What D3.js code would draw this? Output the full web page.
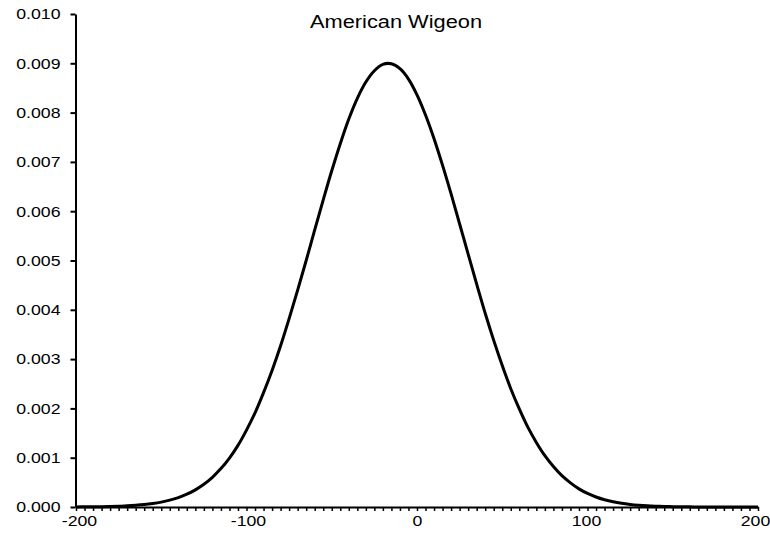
<!DOCTYPE html>
<html>
<head>
<meta charset="utf-8">
<script src="https://cdn.jsdelivr.net/npm/d3@7"></script>
<style>
  html, body { margin: 0; padding: 0; background: #fff; }
  svg { display: block; }
  text { font-family: "Liberation Sans", Arial, sans-serif; fill: #000; }
</style>
</head>
<body>
<svg id="chart" width="770" height="545"></svg>
<script>
// ---- data ----
const title = "American Wigeon";
const xValues = [
  -200,-195,-190,-185,-180,-175,-170,-165,-160,-155,
  -150,-145,-140,-135,-130,-125,-120,-115,-110,-105,
  -100,-95,-90,-85,-80,-75,-70,-65,-60,-55,
  -50,-45,-40,-35,-30,-25,-20,-15,-10,-5,
  0,5,10,15,20,25,30,35,40,45,
  50,55,60,65,70,75,80,85,90,95,
  100,105,110,115,120,125,130,135,140,145,
  150,155,160,165,170,175,180,185,190,195,
  200];
const densityValues = [
  0.000002,0.000003,0.000004,0.000007,0.00001,0.000016,0.000023,0.000034,0.000049,0.00007,
  0.000099,0.000139,0.000191,0.000259,0.000348,0.000461,0.000603,0.000779,0.000993,0.00125,
  0.00156,0.00191,0.00232,0.00277,0.00327,0.00382,0.0044,0.005,0.00562,0.00623,
  0.00682,0.00737,0.00787,0.00829,0.00862,0.00885,0.00898,0.00899,0.00889,0.00868,
  0.00836,0.00795,0.00747,0.00693,0.00635,0.00574,0.00513,0.00452,0.00393,0.00338,
  0.00287,0.0024,0.00199,0.00162,0.00131,0.00104,0.00082,0.000635,0.00049,0.000368,
  0.000275,0.000203,0.000148,0.000106,0.000075,0.000053,0.000037,0.000025,0.000017,0.000011,
  0.000007,0.000005,0.000003,0.000002,0.000001,0.000001,0,0,0,0,
  0];
const xTickValues = [-200,-100,0,100,200];
const xTickLabels = ["-200","-100","0","100","200"];
const xMinorTickValues = [
  -200,-195,-190,-185,-180,-175,-170,-165,-160,-155,-150,-145,-140,-135,-130,-125,-120,-115,-110,-105,
  -100,-95,-90,-85,-80,-75,-70,-65,-60,-55,-50,-45,-40,-35,-30,-25,-20,-15,-10,-5,
  0,5,10,15,20,25,30,35,40,45,50,55,60,65,70,75,80,85,90,95,
  100,105,110,115,120,125,130,135,140,145,150,155,160,165,170,175,180,185,190,195,200];
const yTickValues = [0,0.001,0.002,0.003,0.004,0.005,0.006,0.007,0.008,0.009,0.010];
const yTickLabels = ["0.000","0.001","0.002","0.003","0.004","0.005","0.006","0.007","0.008","0.009","0.010"];

(function () {
  const svg = d3.select("#chart");
  const mLeft = 76, mRight = 758, mTop = 14, mBottom = 507;
  const sx = 1.18; // horizontal stretch of text in reference

  const x = d3.scaleLinear().domain([-200, 200]).range([mLeft, mRight]);
  const xLab = d3.scaleLinear().domain([-200, 200]).range([mLeft + 3, mRight - 3]);
  const y = d3.scaleLinear().domain([0, 0.010]).range([mBottom, mTop]);

  // Y axis
  const gy = svg.append("g").attr("transform", `translate(${mLeft - 0.5},0)`)
    .call(d3.axisLeft(y).tickValues(yTickValues).tickSize(5).tickSizeOuter(0)
          .tickPadding(10).tickFormat((d, i) => yTickLabels[i]));
  gy.select(".domain").attr("stroke", "#000").attr("stroke-width", 2);
  gy.selectAll(".tick line").attr("stroke", "#000").attr("stroke-width", 2);
  gy.selectAll(".tick text")
    .attr("font-size", 15)
    .attr("font-family", "Liberation Sans, Arial, sans-serif")
    .attr("x", -15 / sx)
    .attr("transform", `scale(${sx},1)`);

  // X axis line + minor ticks
  const gxm = svg.append("g").attr("transform", `translate(0,${mBottom})`)
    .call(d3.axisBottom(x).tickValues(xMinorTickValues).tickSize(4).tickSizeOuter(0).tickFormat(""));
  gxm.select(".domain").attr("stroke", "#000").attr("stroke-width", 2);
  gxm.selectAll(".tick line").attr("stroke", "#000").attr("stroke-width", 1.5);

  // X axis labels
  const gx = svg.append("g").attr("transform", `translate(0,${mBottom})`)
    .call(d3.axisBottom(xLab).tickValues(xTickValues).tickSize(0).tickSizeOuter(0).tickPadding(8)
          .tickFormat((d, i) => xTickLabels[i]));
  gx.select(".domain").remove();
  gx.selectAll(".tick text")
    .attr("font-size", 15)
    .attr("font-family", "Liberation Sans, Arial, sans-serif")
    .attr("transform", `scale(${sx},1)`);

  // Curve
  const pts = xValues.map((v, i) => [v, densityValues[i]]);
  svg.append("path")
    .datum(pts)
    .attr("fill", "none")
    .attr("stroke", "#000")
    .attr("stroke-width", 3)
    .attr("stroke-linejoin", "round")
    .attr("d", d3.line().x(d => x(d[0])).y(d => y(d[1])).curve(d3.curveCatmullRom.alpha(0.5)));

  // Title
  svg.append("text")
    .attr("transform", `translate(396,28) scale(${sx},1)`)
    .attr("text-anchor", "middle")
    .attr("font-size", 18.5)
    .text(title);
})();
</script>
</body>
</html>
